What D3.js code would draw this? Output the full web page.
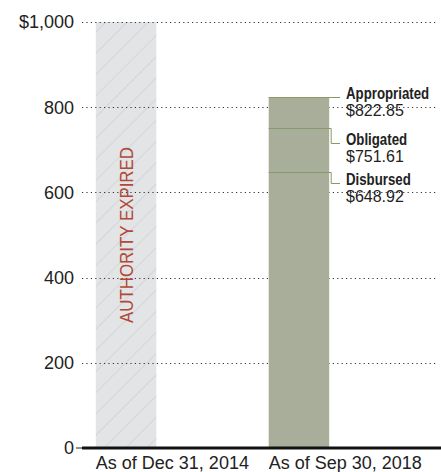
<!DOCTYPE html>
<html>
<head>
<meta charset="utf-8">
<script src="https://cdn.jsdelivr.net/npm/d3@7"></script>
<style>
  body { margin: 0; background: #fff; }
  svg { display: block; font-family: "Liberation Sans", Arial, sans-serif; }
</style>
</head>
<body>
<div class="chart"></div>
<script>
const periods = ['As of Dec 31, 2014', 'As of Sep 30, 2018'];
const barTotals = [1000, 822.85];
const stages = ['Appropriated', 'Obligated', 'Disbursed'];
const stageAmounts = [822.85, 751.61, 648.92];
const yTicks = [0, 200, 400, 600, 800, 1000];
const expiredLabel = 'AUTHORITY EXPIRED';

const width = 441;
const height = 472;
const left = 82;
const y0 = 448;
const yTop = 22;

const svg = d3.select('.chart')
    .append('svg')
    .attr('width', width)
    .attr('height', height);

const x = d3.scaleBand()
    .domain(periods)
    .range([left, left + 261])
    .paddingInner(0.65)
    .paddingOuter(0.08);

const y = d3.scaleLinear()
    .domain([0, 1000])
    .range([y0, yTop]);

// hatch pattern for the expired bar
const defs = svg.append('defs');
const pat = defs.append('pattern')
    .attr('id', 'hatch')
    .attr('patternUnits', 'userSpaceOnUse')
    .attr('width', 15)
    .attr('height', 15)
    .attr('patternTransform', 'rotate(45)');
pat.append('rect').attr('width', 15).attr('height', 15).attr('fill', '#e3e4e6');
pat.append('line')
    .attr('x1', 0).attr('y1', 0).attr('x2', 0).attr('y2', 15)
    .attr('stroke', '#c4c6ca')
    .attr('stroke-width', 1);

// expired bar
svg.append('rect')
    .attr('x', x(periods[0]))
    .attr('y', y(barTotals[0]))
    .attr('width', x.bandwidth())
    .attr('height', y(0) - y(barTotals[0]))
    .attr('fill', 'url(#hatch)');

// dotted gridlines
yTicks.filter(d => d > 0).forEach(t => {
  svg.append('line')
      .attr('x1', left)
      .attr('x2', 438)
      .attr('y1', Math.round(y(t)) + 0.5)
      .attr('y2', Math.round(y(t)) + 0.5)
      .attr('stroke', '#333')
      .attr('stroke-width', 1.2)
      .attr('stroke-dasharray', '1.2,3.2');
});

// tick labels
yTicks.forEach(t => {
  svg.append('text')
      .attr('x', 74)
      .attr('y', y(t))
      .attr('dy', '0.35em')
      .attr('text-anchor', 'end')
      .attr('fill', '#222')
      .style('font-size', '18px')
      .text(t === 1000 ? '$1,000' : t);
});

// the tick at zero
svg.append('line')
    .attr('x1', 76).attr('x2', left)
    .attr('y1', y0).attr('y2', y0)
    .attr('stroke', '#222')
    .attr('stroke-width', 1);

// current bar
const bx = x(periods[1]);
const bw = x.bandwidth();
svg.append('rect')
    .attr('x', bx)
    .attr('y', y(barTotals[1]))
    .attr('width', bw)
    .attr('height', y(0) - y(barTotals[1]))
    .attr('fill', '#a9ae9b');

// expired label, condensed to fit the bar
svg.append('text')
    .attr('transform', `translate(${x(periods[0]) + x.bandwidth() / 2 + 7},${y(500)}) rotate(-90)`)
    .attr('text-anchor', 'middle')
    .attr('fill', '#b04a36')
    .attr('textLength', 176)
    .attr('lengthAdjust', 'spacingAndGlyphs')
    .style('font-size', '19px')
    .text(expiredLabel);

// stage markers and labels
const labelDrop = [0, 15, 11];
const lineColor = '#879c64';
stages.forEach((s, i) => {
  const yy = Math.round(y(stageAmounts[i])) + 0.5;
  const ly = yy + labelDrop[i];
  const pts = i === 0
    ? [[bx, yy], [340, yy]]
    : [[bx, yy], [bx + bw + 2, yy], [bx + bw + 2, ly], [340, ly]];
  svg.append('path')
      .attr('d', d3.line()(pts))
      .attr('fill', 'none')
      .attr('stroke', lineColor)
      .attr('stroke-width', 1);

  svg.append('text')
      .attr('transform', `translate(346,${ly + 1}) scale(0.78,1)`)
      .attr('fill', '#222')
      .style('font-weight', 'bold')
      .style('font-size', '17px')
      .text(s);

  svg.append('text')
      .attr('x', 346)
      .attr('y', ly + 18)
      .attr('fill', '#222')
      .style('font-size', '16px')
      .text('$' + d3.format('.2f')(stageAmounts[i]));
});

// zero baseline
svg.append('line')
    .attr('x1', left).attr('x2', width)
    .attr('y1', y0).attr('y2', y0)
    .attr('stroke', '#111')
    .attr('stroke-width', 3);

// category labels
periods.forEach(p => {
  svg.append('text')
      .attr('x', x(p))
      .attr('y', 469)
      .attr('fill', '#222')
      .style('font-size', '18px')
      .text(p);
});
</script>
</body>
</html>
